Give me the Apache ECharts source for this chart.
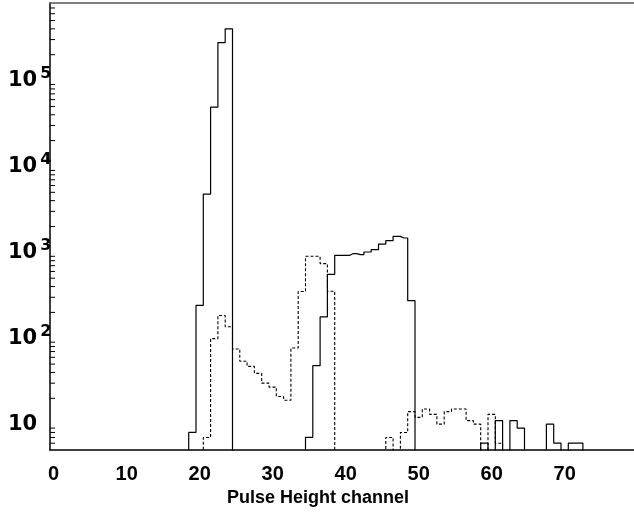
<!DOCTYPE html>
<html>
<head>
<meta charset="utf-8">
<title>Pulse Height</title>
<script src="https://cdn.jsdelivr.net/npm/echarts@6/dist/echarts.min.js"></script>
<style>
    html, body { margin: 0; padding: 0; background: #fff; }
    #chart { width: 634px; height: 518px; }
</style>
</head>
<body>
<div id="chart"></div>
<script>
    // channels 0..79, one bin per channel
    const channels = [];
    for (let i = 0; i < 80; i++) channels.push(String(i));

    // solid histogram (counts per channel)
    const solidCounts = [
        0, 0, 0, 0, 0, 0, 0, 0, 0, 0,
        0, 0, 0, 0, 0, 0, 0, 0, 0, 8,
        242, 4770, 49000, 277000, 400000, 0, 0, 0, 0, 0,
        0, 0, 0, 0, 0, 7, 48, 177, 555, 920,
        920, 965, 940, 1010, 1075, 1250, 1370, 1535, 1470, 274,
        0, 0, 0, 0, 0, 0, 0, 0, 0, 6,
        0, 11, 0, 11, 9, 0, 0, 0, 10, 6,
        0, 6, 6, 0, 0, 0, 0, 0, 0, 0
    ];

    // dashed histogram
    const dashedCounts = [
        0, 0, 0, 0, 0, 0, 0, 0, 0, 0,
        0, 0, 0, 0, 0, 0, 0, 0, 0, 0,
        0, 7, 99, 184, 136, 75, 54, 47, 39, 30,
        27, 21, 19, 77, 350, 900, 900, 740, 352, 0,
        0, 0, 0, 0, 0, 0, 7, 0, 8, 14,
        12, 15, 13, 10, 14, 15, 15, 11, 10, 0,
        13, 6, 0, 0, 0, 0, 0, 0, 0, 0,
        0, 0, 0, 0, 0, 0, 0, 0, 0, 0
    ];

    // y axis range and the log minor ticks (2..9 of each decade)
    const yMin = 5, yMax = 8e5;
    const decades = [1, 10, 100, 1000, 10000, 100000];
    const minorSteps = [2, 3, 4, 5, 6, 7, 8, 9];

    const minorTicks = [];
    decades.forEach(d => minorSteps.forEach(m => {
        const v = d * m;
        if (v > yMin && v < yMax) minorTicks.push([0, v]);
    }));

    // empty bins go below the axis floor so the step drops onto the axis
    const floorVal = v => (v > 0 ? v : 1);

    const chart = echarts.init(document.getElementById('chart'));

    const xBase = {
        type: 'category',
        data: channels,
        boundaryGap: true,
        splitLine: {show: false}
    };

    const option = {
        animation: false,
        backgroundColor: '#fff',
        grid: {left: 50, top: 3, right: -5, bottom: 68},
        xAxis: [
            Object.assign({}, xBase, {
                position: 'bottom',
                axisLine: {lineStyle: {color: '#000', width: 1.5}},
                axisTick: {
                    inside: true, length: 8, alignWithLabel: true,
                    interval: (i) => i % 10 === 0,
                    lineStyle: {color: '#000', width: 1.2}
                },
                axisLabel: {
                    interval: (i) => i % 10 === 0,
                    margin: 14,
                    color: '#000',
                    fontFamily: 'Liberation Sans',
                    fontWeight: 'bold',
                    fontSize: 20
                },
                name: 'Pulse Height channel',
                nameLocation: 'middle',
                nameGap: 39,
                nameTextStyle: {
                    color: '#000',
                    fontFamily: 'Liberation Sans',
                    fontWeight: 'bold',
                    fontSize: 18,
                    padding: [0, 48, 0, 0]
                }
            }),
            Object.assign({}, xBase, {
                position: 'bottom',
                axisLine: {show: false},
                axisTick: {
                    inside: true, length: 5, alignWithLabel: true,
                    interval: (i) => i % 2 === 0,
                    lineStyle: {color: '#000', width: 1}
                },
                axisLabel: {show: false}
            }),
            Object.assign({}, xBase, {
                position: 'top',
                axisLine: {lineStyle: {color: '#555', width: 1.5}},
                axisTick: {show: false},
                axisLabel: {show: false}
            })
        ],
        yAxis: {
            type: 'log',
            logBase: 10,
            min: yMin,
            max: yMax,
            splitLine: {show: false},
            axisLine: {show: true, lineStyle: {color: '#000', width: 1.5}},
            axisTick: {inside: true, length: 9, lineStyle: {color: '#000', width: 1.2}},
            axisLabel: {
                showMinLabel: false,
                showMaxLabel: false,
                align: 'left',
                margin: 42,
                formatter: function (v) {
                    const e = Math.round(Math.log10(v));
                    if (Math.abs(v - Math.pow(10, e)) > 1e-6 * v) return '';
                    if (e === 1) return '{b|10}';
                    return '{b|10}{e|' + e + '}';
                },
                rich: {
                    b: {color: '#000', fontFamily: 'DejaVu Sans', fontWeight: 'bold', fontSize: 21},
                    e: {color: '#000', fontFamily: 'DejaVu Sans', fontWeight: 'bold', fontSize: 16,
                        padding: [0, 0, 13, 3]}
                }
            }
        },
        series: [
            {
                name: 'dashed',
                type: 'line',
                step: 'middle',
                xAxisIndex: 0,
                symbol: 'none',
                data: dashedCounts.map(floorVal),
                lineStyle: {color: '#000', width: 1.1, type: [3, 2]}
            },
            {
                name: 'solid',
                type: 'line',
                step: 'middle',
                xAxisIndex: 0,
                symbol: 'none',
                data: solidCounts.map(floorVal),
                lineStyle: {color: '#000', width: 1.2}
            },
            {
                // log minor ticks on the y axis
                type: 'custom',
                xAxisIndex: 0,
                silent: true,
                clip: false,
                data: minorTicks,
                renderItem: function (params, api) {
                    const p = api.coord([api.value(0), api.value(1)]);
                    const x0 = params.coordSys.x;
                    return {
                        type: 'line',
                        shape: {x1: x0, y1: p[1], x2: x0 + 5, y2: p[1]},
                        style: {stroke: '#000', lineWidth: 1}
                    };
                }
            }
        ]
    };

    chart.setOption(option);
</script>
</body>
</html>
